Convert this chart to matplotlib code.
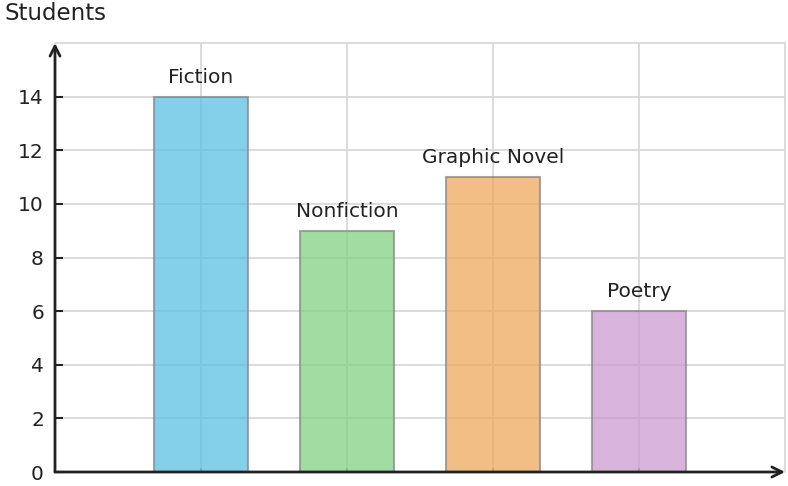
import matplotlib
matplotlib.use("Agg")
import matplotlib.pyplot as plt

categories = ["Fiction", "Nonfiction", "Graphic Novel", "Poetry"]
students = [14, 9, 11, 6]
colors = ["#5BC0E3", "#84D184", "#F0A95E", "#CB9BD2"]
yticks = [0, 2, 4, 6, 8, 10, 12, 14]

fig = plt.figure(figsize=(7.88, 4.86), dpi=100)
ax = fig.add_axes([55/788, 14/486, 730/788, 429/486])
x = list(range(1, len(categories) + 1))

ax.set_xlim(0, len(categories) + 1)
ax.set_ylim(0, 16)
ax.set_axisbelow(True)
ax.grid(True, color="#d6d6d6", lw=1.2)
ax.bar(x, students, width=0.65, color=colors, alpha=0.75,
       edgecolor="#888888", linewidth=1.5, zorder=2)
for xi, v, c in zip(x, students, categories):
    ax.annotate(c, xy=(xi, v), xytext=(0, 7), textcoords="offset points",
                ha="center", va="bottom", fontsize=14.5, color="#222222")

ax.set_xticks(x)
ax.set_xticklabels([])
ax.set_yticks(yticks)
ax.tick_params(axis="y", direction="in", length=6, width=1.5, labelsize=14.5,
               colors="#222222", pad=8)
ax.tick_params(axis="x", direction="in", length=3, width=1.5, color="#888888")
for s in ["top", "right"]:
    ax.spines[s].set_color("#d6d6d6")
    ax.spines[s].set_linewidth(1.2)
for s in ["left", "bottom"]:
    ax.spines[s].set_visible(False)

ax.annotate("", xy=(0, 1.0), xytext=(0, 0), xycoords="axes fraction",
            arrowprops=dict(arrowstyle="->", lw=2, color="#222222",
                            shrinkA=0, shrinkB=0, mutation_scale=18), clip_on=False)
ax.annotate("", xy=(1.0, 0), xytext=(0, 0), xycoords="axes fraction",
            arrowprops=dict(arrowstyle="->", lw=2, color="#222222",
                            shrinkA=0, shrinkB=0, mutation_scale=18), clip_on=False)

fig.text(4/788, 1 - 13/486, "Students", ha="left", va="center", fontsize=16.5,
         color="#222222")

fig.savefig("out.png", dpi=100)
